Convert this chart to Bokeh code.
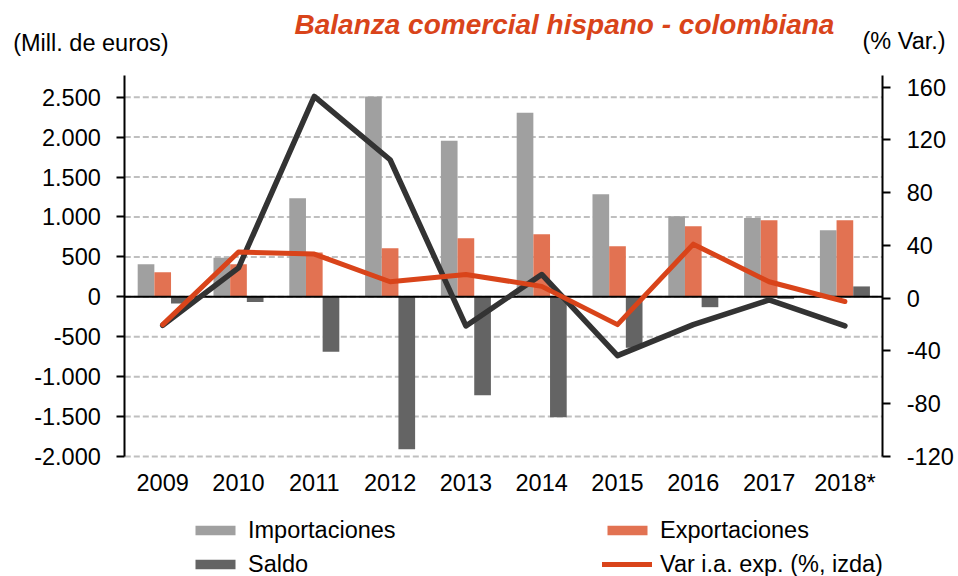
from bokeh.plotting import figure
from bokeh.models import (ColumnDataSource, Range1d, LinearAxis, FixedTicker,
                          Label, Legend, LegendItem)
from bokeh.transform import dodge
from bokeh.embed import file_html
from bokeh.resources import INLINE

# ---------------- data ----------------
years = ["2009", "2010", "2011", "2012", "2013", "2014", "2015", "2016", "2017", "2018*"]
importaciones = [409, 488, 1234, 2510, 1955, 2304, 1284, 1009, 988, 834]
exportaciones = [309, 409, 555, 609, 734, 784, 634, 884, 959, 959]
saldo = [-85, -65, -688, -1908, -1233, -1508, -637, -130, -25, 130]
var_exp = [-20, 35, 33.5, 12.5, 18, 9, -20, 41, 12.5, -2.5]
var_imp = [-20.5, 23, 153, 105, -21, 18, -43.5, -20, -1.3, -21]

left_ticks = [-2000, -1500, -1000, -500, 0, 500, 1000, 1500, 2000, 2500]
left_tick_labels = ["-2.000", "-1.500", "-1.000", "-500", "0", "500", "1.000", "1.500", "2.000", "2.500"]
right_ticks = [-120, -80, -40, 0, 40, 80, 120, 160]
right_tick_labels = ["-120", "-80", "-40", "0", "40", "80", "120", "160"]

FONT = "Liberation Sans"
FS = "23.5px"
C_IMP, C_EXP, C_SAL = "#A0A0A0", "#E27252", "#646464"
C_VEXP, C_VIMP = "#D9441A", "#333333"

n = len(years)
xs = list(range(n))
src = ColumnDataSource(dict(x=xs, imp=importaciones, exp=exportaciones, saldo=saldo,
                            vexp=var_exp, vimp=var_imp))

# ---- layout geometry (pixels) ----
W, H = 958, 576
FL, FR, FT, FB = 124.3, 882.3, 75.0, 456.0   # plotting area box on the canvas
cat_px = (FR - FL) / n
x_lo, x_hi = -0.5, n - 0.5
# left scale: 2500 at y=96.7, -2000 at y=456
l_ppu = (FB - 96.7) / 4500.0
r_ppu = (FB - 86.7) / 280.0
l_top_bound = 2500 + (96.7 - FT) / l_ppu
r_top_bound = 160 + (86.7 - FT) / r_ppu

p = figure(width=W, height=H, output_backend="svg", toolbar_location=None,
           x_range=Range1d(x_lo - FL / cat_px, x_hi + (W - FR) / cat_px),
           y_range=Range1d(-2000 - (H - FB) / l_ppu, 2500 + 96.7 / l_ppu),
           x_axis_type=None, y_axis_type=None)
p.min_border = 0
p.min_border_left = 0
p.min_border_right = 0
p.min_border_top = 0
p.min_border_bottom = 0
p.outline_line_color = None
p.background_fill_color = "white"
p.border_fill_color = "white"
p.xgrid.visible = False
p.ygrid.visible = False
p.extra_y_ranges = {"pct": Range1d(-120 - (H - FB) / r_ppu, 160 + 86.7 / r_ppu)}

def style_y(ax):
    ax.axis_line_color = "black"
    ax.axis_line_width = 2
    ax.major_tick_line_color = "black"
    ax.major_tick_line_width = 2
    ax.major_tick_out = 8
    ax.major_tick_in = 0
    ax.minor_tick_line_color = None
    ax.major_label_standoff = 16
    ax.major_label_text_font = FONT
    ax.major_label_text_font_size = FS
    ax.major_label_text_color = "black"

ax_l = LinearAxis(ticker=FixedTicker(ticks=left_ticks), fixed_location=x_lo,
                  bounds=(-2000, l_top_bound))
ax_l.major_label_overrides = {t: l for t, l in zip(left_ticks, left_tick_labels)}
style_y(ax_l)
p.add_layout(ax_l, "left")

ax_r = LinearAxis(y_range_name="pct", ticker=FixedTicker(ticks=right_ticks), fixed_location=x_hi,
                  bounds=(-120, r_top_bound))
ax_r.major_label_overrides = {t: l for t, l in zip(right_ticks, right_tick_labels)}
style_y(ax_r)
p.add_layout(ax_r, "right")

xa = LinearAxis(ticker=FixedTicker(ticks=xs), fixed_location=left_ticks[0])
xa.major_label_overrides = {i: y for i, y in zip(xs, years)}
xa.axis_line_color = None
xa.major_tick_line_color = None
xa.minor_tick_line_color = None
xa.major_label_standoff = 7
xa.major_label_text_font = FONT
xa.major_label_text_font_size = FS
xa.major_label_text_color = "black"
p.add_layout(xa, "below")

# ---- dashed horizontal grid across the category span ----
grid_src = ColumnDataSource(dict(x0=[x_lo] * len(left_ticks), x1=[x_hi] * len(left_ticks),
                                 y=left_ticks))
p.segment(x0="x0", x1="x1", y0="y", y1="y", source=grid_src, line_color="#BFBFBF",
          line_width=2, line_dash="6 3")

bw = 0.22
r_imp = p.vbar(x=dodge("x", -0.22), top="imp", bottom=0, width=bw,
               source=src, fill_color=C_IMP, line_color=None)
r_exp = p.vbar(x=dodge("x", 0.0), top="exp", bottom=0, width=bw,
               source=src, fill_color=C_EXP, line_color=None)
r_sal = p.vbar(x=dodge("x", 0.22), top="saldo", bottom=0, width=bw,
               source=src, fill_color=C_SAL, line_color=None)

# zero line
p.segment(x0=[x_lo], x1=[x_hi], y0=[0], y1=[0], line_color="black", line_width=2)

r_vimp = p.line(x="x", y="vimp", source=src, y_range_name="pct", line_color=C_VIMP,
                line_width=5.5, line_join="round", line_cap="round")
r_vexp = p.line(x="x", y="vexp", source=src, y_range_name="pct", line_color=C_VEXP,
                line_width=5, line_join="round", line_cap="round")

# ---- texts (screen units from bottom-left of the canvas-wide frame) ----
p.add_layout(Label(x=294, y=H - 24, x_units="screen", y_units="screen",
                   text="Balanza comercial hispano - colombiana", text_font=FONT,
                   text_font_size="28px", text_font_style="bold italic", text_color=C_VEXP,
                   text_baseline="middle", text_align="left"))
p.add_layout(Label(x=12.7, y=H - 42, x_units="screen", y_units="screen",
                   text="(Mill. de euros)", text_font=FONT, text_font_size=FS,
                   text_color="black", text_baseline="middle", text_align="left"))
p.add_layout(Label(x=862, y=H - 40, x_units="screen", y_units="screen",
                   text="(% Var.)", text_font=FONT, text_font_size=FS,
                   text_color="black", text_baseline="middle", text_align="left"))

# ---- legends ----
def make_legend(items, x):
    lg = Legend(items=items, location=(x, -1.5), orientation="vertical")
    lg.border_line_color = None
    lg.background_fill_alpha = 0
    lg.padding = 0
    lg.margin = 0
    lg.spacing = 7
    lg.glyph_width = 50
    lg.glyph_height = 12
    lg.label_standoff = 8
    lg.label_height = 27
    lg.label_text_font = FONT
    lg.label_text_font_size = FS
    lg.label_text_color = "black"
    return lg

p.add_layout(make_legend([LegendItem(label="Importaciones", renderers=[r_imp]),
                          LegendItem(label="Saldo", renderers=[r_sal])], 190), "center")
p.add_layout(make_legend([LegendItem(label="Exportaciones", renderers=[r_exp]),
                          LegendItem(label="Var i.a. exp. (%, izda)", renderers=[r_vexp])], 602), "center")

open("out.html", "w").write(file_html(p, INLINE))
